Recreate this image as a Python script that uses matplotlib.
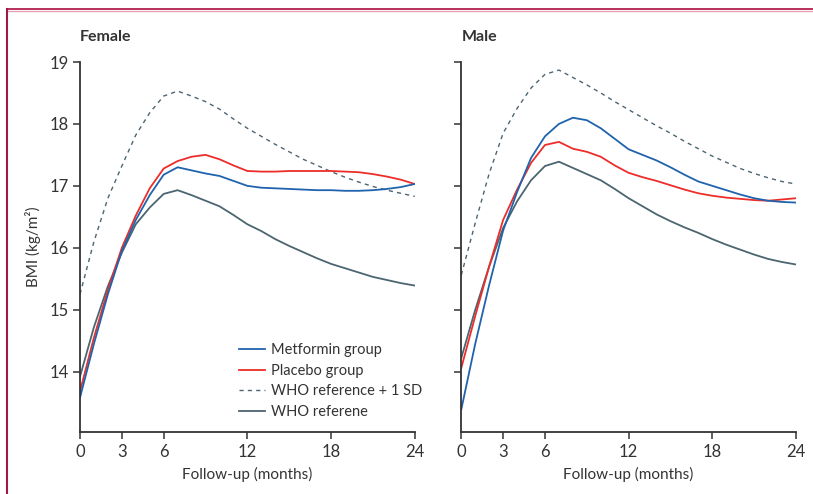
import matplotlib
matplotlib.use("Agg")
import matplotlib.pyplot as plt
from matplotlib.lines import Line2D

plt.rcParams['font.family'] = ['Lato', 'DejaVu Sans']

months = list(range(0, 25))

# Female
f_metformin = [13.58, 14.45, 15.25, 15.95, 16.45, 16.85, 17.18, 17.30, 17.25, 17.20, 17.16, 17.08, 17.00,
               16.97, 16.96, 16.95, 16.94, 16.93, 16.93, 16.92, 16.92, 16.93, 16.95, 16.98, 17.03]
f_placebo = [13.68, 14.55, 15.32, 16.00, 16.52, 16.96, 17.28, 17.40, 17.47, 17.50, 17.43, 17.33, 17.24,
             17.23, 17.23, 17.24, 17.24, 17.24, 17.24, 17.23, 17.22, 17.19, 17.15, 17.10, 17.03]
f_who_sd = [15.25, 16.10, 16.80, 17.32, 17.82, 18.18, 18.45, 18.53, 18.45, 18.36, 18.24, 18.08, 17.93,
            17.80, 17.67, 17.55, 17.43, 17.33, 17.23, 17.14, 17.06, 16.99, 16.93, 16.88, 16.83]
f_who = [13.92, 14.72, 15.38, 15.92, 16.38, 16.65, 16.87, 16.93, 16.85, 16.76, 16.67, 16.53, 16.38,
         16.27, 16.14, 16.03, 15.93, 15.83, 15.74, 15.67, 15.60, 15.53, 15.48, 15.43, 15.39]

# Male
m_metformin = [13.39, 14.45, 15.40, 16.28, 16.90, 17.45, 17.80, 18.00, 18.10, 18.06, 17.93, 17.76, 17.59,
               17.50, 17.41, 17.30, 17.18, 17.07, 17.00, 16.93, 16.86, 16.80, 16.76, 16.74, 16.73]
m_placebo = [14.06, 14.90, 15.70, 16.45, 16.94, 17.37, 17.66, 17.71, 17.60, 17.55, 17.47, 17.33, 17.21,
             17.14, 17.08, 17.01, 16.94, 16.88, 16.84, 16.81, 16.79, 16.77, 16.76, 16.78, 16.80]
m_who_sd = [15.56, 16.40, 17.20, 17.85, 18.25, 18.58, 18.80, 18.87, 18.75, 18.63, 18.50, 18.36, 18.23,
            18.10, 17.97, 17.85, 17.72, 17.60, 17.48, 17.38, 17.28, 17.20, 17.13, 17.07, 17.03]
m_who = [14.22, 15.00, 15.70, 16.32, 16.75, 17.09, 17.32, 17.39, 17.29, 17.19, 17.09, 16.95, 16.80,
         16.67, 16.54, 16.43, 16.33, 16.24, 16.14, 16.05, 15.97, 15.89, 15.82, 15.77, 15.73]

x_ticks = [0, 3, 6, 12, 18, 24]
y_ticks = [14, 15, 16, 17, 18, 19]
legend_labels = ["Metformin group", "Placebo group", "WHO reference + 1 SD", "WHO referene"]

BLUE = "#1f63ad"
RED = "#ec2d2a"
GRAY = "#4b6571"
TXT = "#333333"

fig = plt.figure(figsize=(8.13, 4.94), dpi=100)

# frame decoration
fig.add_artist(Line2D([7/813, 1], [1-9.5/494, 1-9.5/494], color="#b2214f", lw=1.3))
fig.add_artist(Line2D([7/813, 1], [1-11/494, 1-11/494], color="#e89ab0", lw=0.9))
fig.add_artist(Line2D([7/813, 7/813], [0, 1-9/494], color="#a01a48", lw=1.5))

bottom = 1 - 431.7/494
top = 1 - 62/494
h = top - bottom
ax1 = fig.add_axes([80/813, bottom, (414.7-80)/813, h])
ax2 = fig.add_axes([461.3/813, bottom, (796-461.3)/813, h])

panels = [
    (ax1, "Female", f_metformin, f_placebo, f_who_sd, f_who),
    (ax2, "Male", m_metformin, m_placebo, m_who_sd, m_who),
]

DASH = (0, (3, 3))

for ax, title, met, pla, sd, who in panels:
    ax.plot(months, sd, color=GRAY, lw=1.0, ls=DASH, label=legend_labels[2])
    ax.plot(months, who, color=GRAY, lw=1.3, label=legend_labels[3])
    ax.plot(months, pla, color=RED, lw=1.3, label=legend_labels[1])
    ax.plot(months, met, color=BLUE, lw=1.3, label=legend_labels[0])
    ax.set_xlim(0, 24)
    ax.set_ylim(13.03, 19)
    ax.set_xticks(x_ticks)
    ax.set_yticks(y_ticks)
    for s in ["top", "right"]:
        ax.spines[s].set_visible(False)
    for s in ["left", "bottom"]:
        ax.spines[s].set_color(TXT)
        ax.spines[s].set_linewidth(1.3)
    ax.tick_params(direction="out", length=5, width=1.1, color=TXT, labelcolor=TXT, labelsize=12, pad=3)
    ax.tick_params(axis="x", pad=4)
    ax.set_xlabel("Follow-up (months)", fontsize=11, color=TXT, labelpad=5)
    ax.text(0, 1.05, title, transform=ax.transAxes, fontsize=11.5, fontweight="bold", color=TXT,
            ha="left", va="bottom")
    ax.set_facecolor("none")

ax2.set_yticklabels([])
ax1.set_ylabel("BMI (kg/m²)", fontsize=11, color=TXT, labelpad=6)

handles = [
    Line2D([], [], color=BLUE, lw=1.3),
    Line2D([], [], color=RED, lw=1.3),
    Line2D([], [], color=GRAY, lw=1.0, ls=DASH),
    Line2D([], [], color=GRAY, lw=1.3),
]
leg = ax1.legend(handles, legend_labels, loc="lower left", bbox_to_anchor=(0.475, 0.035), frameon=False,
                 fontsize=10.5, handlelength=1.8, handletextpad=0.4, labelspacing=0.45, borderpad=0,
                 borderaxespad=0)
for t in leg.get_texts():
    t.set_color(TXT)

fig.savefig("out.png", dpi=100)
